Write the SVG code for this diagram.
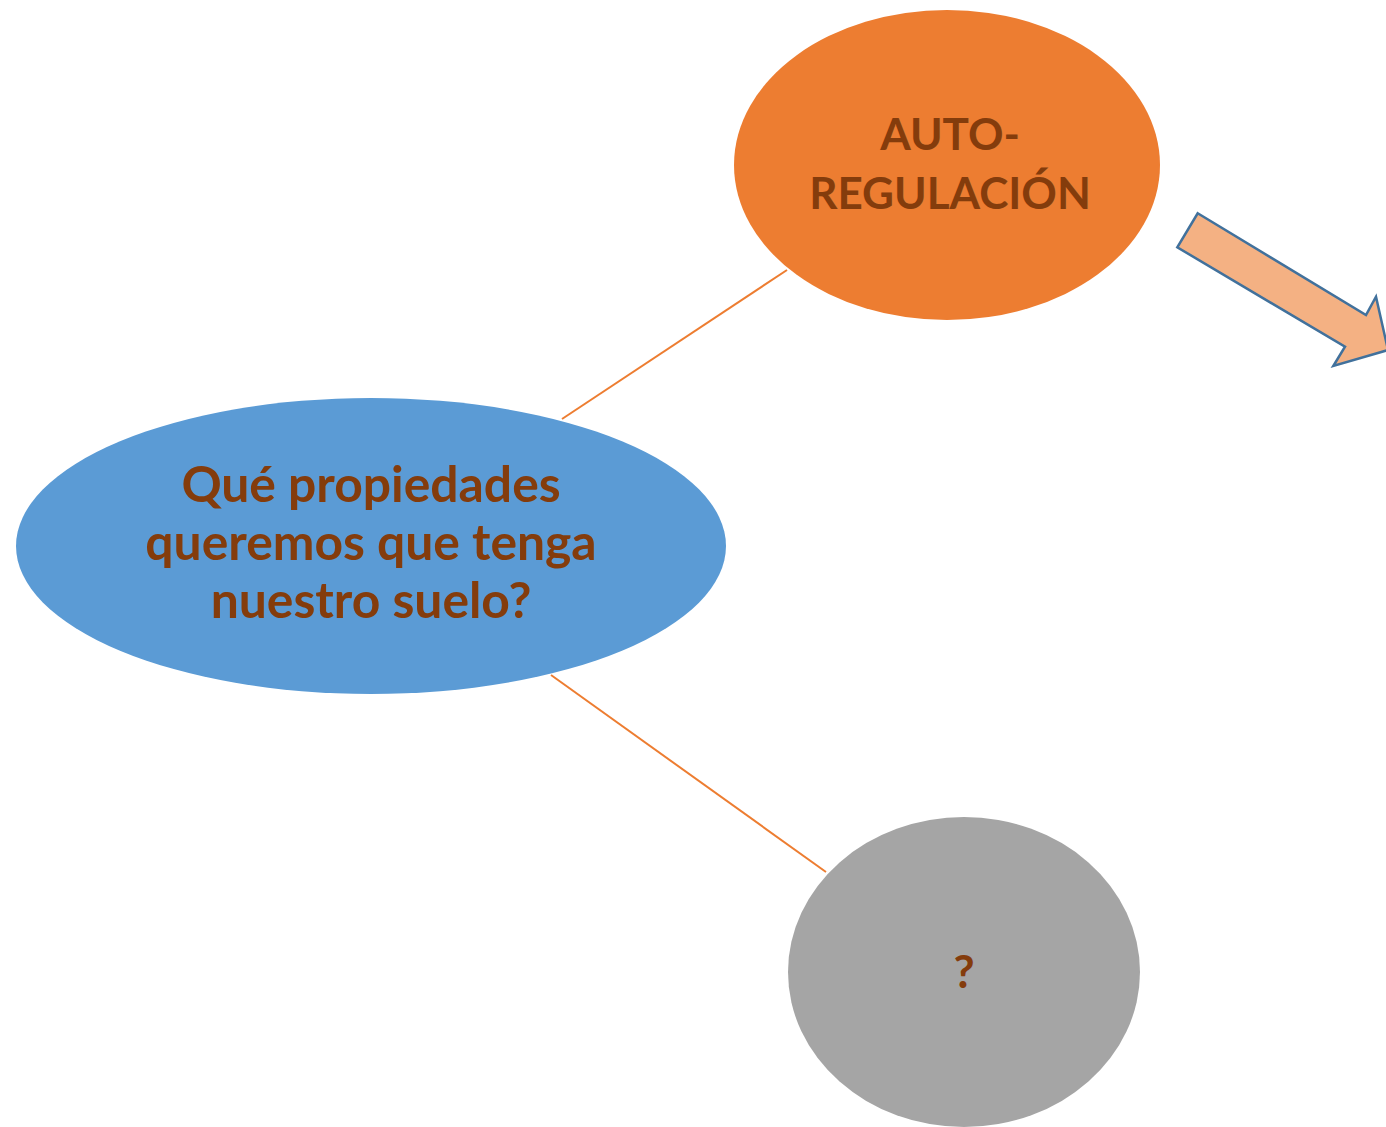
<svg xmlns="http://www.w3.org/2000/svg" width="1386" height="1127" viewBox="0 0 1386 1127">
<style>
.t{font-family:Lato,"Open Sans","Liberation Sans",sans-serif;font-weight:bold;fill:#843C0C;text-anchor:middle}
.c{stroke:#ED7D31;stroke-width:2;fill:none}
</style>
<rect width="1386" height="1127" fill="#FFFFFF"/>
<g id="connectors">
<line class="c" x1="787" y1="270" x2="562" y2="419"/>
<line class="c" x1="551" y1="675" x2="826" y2="872"/>
</g>
<g id="node-auto">
<ellipse cx="947" cy="165" rx="213" ry="155" fill="#ED7D31"/>
<text class="t" x="950" y="150" font-size="44">AUTO-</text>
<text class="t" x="950" y="209" font-size="44">REGULACIÓN</text>
</g>
<g id="node-main">
<ellipse cx="371" cy="546" rx="355" ry="148" fill="#5B9BD5"/>
<text class="t" x="371" y="502" font-size="49.8">Qué propiedades</text>
<text class="t" x="371" y="560" font-size="49.8">queremos que tenga</text>
<text class="t" x="371" y="618" font-size="49.8">nuestro suelo?</text>
</g>
<g id="node-q">
<ellipse cx="964" cy="972" rx="176" ry="155" fill="#A5A5A5"/>
<text class="t" x="964" y="988" font-size="46">?</text>
</g>
<g id="arrow">
<polygon points="1197.7,213.3 1366,315 1376,296.7 1388,350 1333.3,366 1345,346.7 1177.3,247.3" fill="#F4B183" stroke="#41719C" stroke-width="2.5" stroke-linejoin="miter"/>
</g>
</svg>
